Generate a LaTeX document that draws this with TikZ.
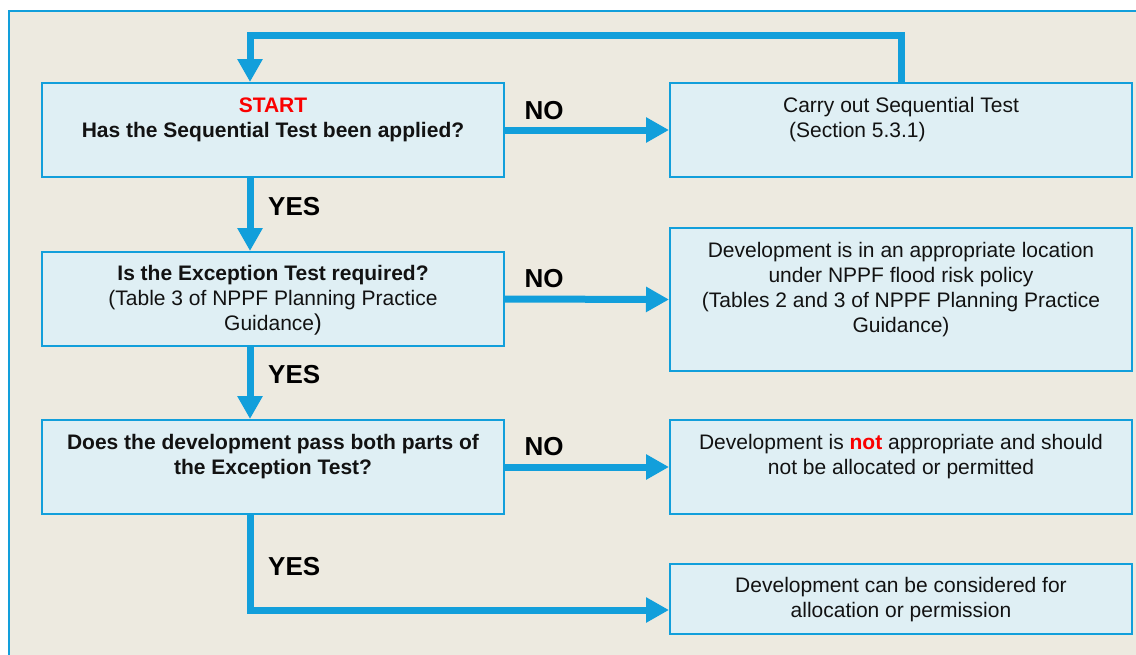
\documentclass[tikz,border=0pt]{standalone}
\usepackage{fontspec}
\setmainfont{Liberation Sans}
\usetikzlibrary{arrows.meta}
\definecolor{flowblue}{RGB}{18,159,219}
\definecolor{boxfill}{RGB}{223,239,244}
\definecolor{pagebg}{RGB}{237,234,224}
\definecolor{txtred}{RGB}{250,0,0}
\tikzset{
  box/.style={draw=flowblue, line width=2pt, fill=boxfill, minimum width=462pt, inner sep=0pt},
  boxtext/.style={anchor=north, inner sep=0pt, align=center, font=\fontsize{21}{25}\selectfont, text=black!93},
  flow/.style={draw=flowblue, line width=7pt, -{Triangle[width=24pt,length=23pt]}},
  answer/.style={font=\fontsize{26}{30}\selectfont\bfseries, text=black, inner sep=0pt}
}
\newcommand{\fstrut}{\rule{0pt}{17pt}}
\begin{document}
\begin{tikzpicture}[x=1pt,y=-1pt]
\useasboundingbox (0,0) rectangle (1136,654);
\clip (0,0) rectangle (1136,654);
\fill[white] (0,0) rectangle (1136,654);
\draw[line width=2pt, draw=flowblue, fill=pagebg] (9,11) rectangle (1160,680);

% boxes
\node[box, minimum height=94pt] (b1) at (273,130) {};
\node[box, minimum height=94pt] (b2) at (901,130) {};
\node[box, minimum height=94pt] (b3) at (273,299) {};
\node[box, minimum height=143pt] (b4) at (901,299.5) {};
\node[box, minimum height=94pt] (b5) at (273,467) {};
\node[box, minimum height=94pt] (b6) at (901,467) {};
\node[box, minimum height=70pt] (b7) at (901,599) {};

% texts
\node[boxtext] (t1) at ([yshift=-13pt]b1.north) {\fstrut\textcolor{txtred}{\textbf{START}}\\\textbf{Has the Sequential Test been applied?}};
\node[boxtext, align=left] (t2) at ([yshift=-13pt]b2.north) {\fstrut Carry out Sequential Test\\\hspace*{6pt}(Section 5.3.1)};
\node[boxtext] (t3) at ([yshift=-12pt]b3.north) {\fstrut\textbf{Is the Exception Test required?}\\(Table 3 of NPPF Planning Practice\\Guidance{\fontsize{23}{25}\selectfont)}};
\node[boxtext] (t4) at ([yshift=-13pt]b4.north) {\fstrut Development is in an appropriate location\\under NPPF flood risk policy\\(Tables 2 and 3 of NPPF Planning Practice\\Guidance)};
\node[boxtext] (t5) at ([yshift=-13pt]b5.north) {\fstrut\textbf{Does the development pass both parts of}\\\textbf{the Exception Test?}};
\node[boxtext] (t6) at ([yshift=-13pt]b6.north) {\fstrut Development is \textcolor{txtred}{\textbf{not}} appropriate and should\\not be allocated or permitted};
\node[boxtext] (t7) at ([yshift=-12pt]b7.north) {\fstrut Development can be considered for\\allocation or permission};

% spine coordinates
\coordinate (lt) at (250,35);
\coordinate (ye) at (250,610);

% connectors
\draw[flow] (b1.east) -- (b2.west);
\draw[flow] (b3.east) -- (b4.west);
\draw[flow] (b5.east) -- (b6.west);
\draw[flow] (b2.north) |- (lt) -- (lt |- b1.north);
\draw[flow] (b1.south -| lt) -- (b3.north -| lt);
\draw[flow] (b3.south -| lt) -- (b5.north -| lt);
\draw[flow] (b5.south -| ye) -- (ye) -- (ye -| b7.west);

% labels
\node[answer, anchor=base] (no1) at (544,119) {NO};
\node[answer, anchor=base] (no2) at (544,287) {NO};
\node[answer, anchor=base] (no3) at (544,455) {NO};
\node[answer, anchor=base west] (yes1) at (268,215) {YES};
\node[answer, anchor=base west] (yes2) at (268,383) {YES};
\node[answer, anchor=base west] (yes3) at (268,575) {YES};
\end{tikzpicture}
\end{document}
